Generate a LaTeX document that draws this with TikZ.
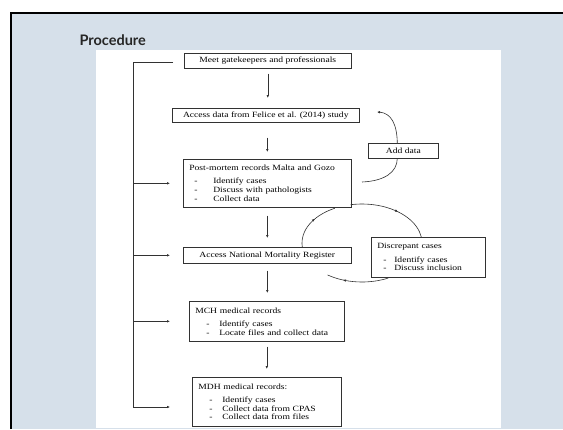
\documentclass[tikz,border=0pt]{standalone}
\usepackage{fontspec}
\setmainfont{Liberation Serif}[FakeStretch=1.2]
\newfontfamily\headfont{Lato}
\usetikzlibrary{arrows.meta}
\usetikzlibrary{decorations.markings}
\definecolor{slidebg}{RGB}{214,224,234}
\definecolor{inkgrey}{RGB}{50,50,50}
\definecolor{titlegrey}{RGB}{38,38,38}
\newcommand{\dashitem}[2]{\makebox[#2pt][l]{\hspace*{#1pt}-}}

\begin{document}
\begin{tikzpicture}[x=1pt,y=-1pt,
    box/.style={draw=inkgrey,line width=0.6pt,anchor=north west,inner sep=0pt,text=black,font=\fontsize{8}{8.7}\selectfont},
    listbox/.style={box,align=left,inner xsep=6pt},
    flow/.style={draw=inkgrey,line width=0.6pt,-{Latex[length=3pt,width=2.6pt]}},
    link/.style={draw=inkgrey,line width=0.6pt},
    midtip/.style={postaction=decorate,decoration={markings,mark=at position #1 with {\arrow{Latex[length=3pt,width=2.6pt]}}}}]
    \useasboundingbox (0,0) rectangle (563,429);
    \fill[white] (0,0) rectangle (563,429);
    \fill[slidebg] (11,13) rectangle (563,429);
    \draw[line width=2pt] (11,429) -- (11,13) -- (563,13);
    \fill[white] (96,50) rectangle (501,428);
    \node[anchor=base west,text=titlegrey,font=\headfont\bfseries\fontsize{14.5}{16}\selectfont] (title) at (76,45) {Procedure};

    \node[box,minimum width=167pt,minimum height=15pt] (meet) at (184,53) {Meet gatekeepers and professionals};
    \node[box,minimum width=187pt,minimum height=14pt] (felice) at (172,108) {Access data from Felice et al. (2014) study};
    \node[listbox,text width=156pt,minimum height=48pt] (pm) at (183,159) {Post-mortem records Malta and Gozo\\[4.6pt]
        \dashitem{5}{24}Identify cases\\
        \dashitem{5}{24}Discuss with pathologists\\
        \dashitem{5}{24}Collect data};
    \node[box,minimum width=168pt,minimum height=16pt] (nmr) at (183,247) {Access National Mortality Register};
    \node[listbox,text width=143pt,minimum height=40pt] (mch) at (189,301) {MCH medical records\\[4.6pt]
        \dashitem{11}{24}Identify cases\\
        \dashitem{11}{24}Locate files and collect data};
    \node[listbox,text width=137pt,minimum height=49pt] (mdh) at (192,377) {MDH medical records:\\[4.6pt]
        \dashitem{11}{24}Identify cases\\
        \dashitem{11}{24}Collect data from CPAS\\
        \dashitem{11}{24}Collect data from files};
    \node[box,minimum width=70pt,minimum height=15pt] (adddata) at (368,143) {Add data};
    \node[listbox,text width=102pt,minimum height=40pt] (discr) at (371,237) {Discrepant cases\\[4.6pt]
        \dashitem{6}{17}Identify cases\\
        \dashitem{6}{17}Discuss inclusion};

    \draw[flow,shorten <=5pt,shorten >=10pt] (meet.south) -- (meet.south |- felice.north);
    \draw[flow,shorten <=15pt,shorten >=7pt] (pm.north |- felice.south) -- (pm.north);
    \draw[flow,shorten <=8pt,shorten >=9pt] (pm.south) -- (pm.south |- nmr.north);
    \draw[flow,shorten <=7pt,shorten >=8pt] (nmr.south) -- (nmr.south |- mch.north);
    \draw[flow,shorten <=5pt,shorten >=8pt] (mch.south) -- (mch.south |- mdh.north);

    \coordinate (railstart) at (173,62);
    \coordinate (railend) at (133,407);
    \coordinate (tipcol) at (170,0);
    \draw[flow] (railstart) -| (railend) -- (tipcol |- railend);
    \foreach \stage in {pm,nmr,mch}
        \draw[flow] (railend |- \stage.west) -- (tipcol |- \stage.west);

    \coordinate (pmout) at (362,182);
    \coordinate (felicein) at (377,112);
    \draw[link] (pmout) .. controls (385,181) and (397,172) .. ([xshift=-6pt]adddata.south);
    \draw[flow] ([xshift=-6pt]adddata.north) .. controls (397,124) and (391,113) .. (felicein);

    \coordinate (cyc) at (362,243);
    \draw[link,midtip=0.58] (cyc) ++(-101:60 and 39) arc[start angle=-101,end angle=-9,x radius=60,y radius=39];
    \draw[link,midtip=0.74] (cyc) ++(64:60 and 39) arc[start angle=64,end angle=125,x radius=60,y radius=39];
    \draw[link,midtip=0.59] (cyc) ++(174:60 and 39) arc[start angle=174,end angle=243,x radius=60,y radius=39];
\end{tikzpicture}
\end{document}
